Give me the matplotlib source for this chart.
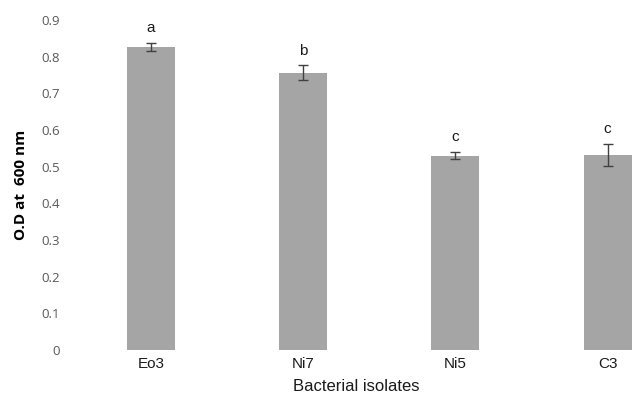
import matplotlib
matplotlib.use('Agg')
import matplotlib.pyplot as plt
import numpy as np

# values
isolates = ['Eo3', 'Ni7', 'Ni5', 'C3']
od600 = [0.826, 0.756, 0.530, 0.532]
errors = [0.011, 0.020, 0.010, 0.030]
letters = ['a', 'b', 'c', 'c']
yticks = [0, 0.1, 0.2, 0.3, 0.4, 0.5, 0.6, 0.7, 0.8, 0.9]

fig = plt.figure(figsize=(6.38, 4.0), dpi=100)
ax = fig.add_axes([0.1176, 0.125, 0.8824, 0.825])

x = np.arange(len(isolates))
ax.bar(x, od600, width=0.315, color='#a5a5a5')
ax.errorbar(x, od600, yerr=errors, fmt='none', ecolor='#404040',
            elinewidth=1, capsize=3.5, capthick=1)

# significance letters above the error bars
for xi, v, e, s in zip(x, od600, errors, letters):
    ax.annotate(s, (xi, v + e), xytext=(0, 5.5), textcoords='offset points',
                ha='center', va='bottom', fontsize=11,
                family='Liberation Sans', color='#1a1a1a')

ax.set_xlim(-0.5, 3.2)
ax.set_ylim(0, 0.9)
ax.set_yticks(yticks)
ax.set_yticklabels([f'{t:g}' for t in yticks], family='Open Sans',
                   fontsize=9.5, color='#595959')
ax.set_xticks(x)
ax.set_xticklabels(isolates, family='Liberation Sans', fontsize=11,
                   color='#1a1a1a')
ax.tick_params(axis='y', length=0, pad=11)
ax.tick_params(axis='x', length=0, pad=5)

for sp in ax.spines.values():
    sp.set_visible(False)

ax.set_xlabel('Bacterial isolates', family='Liberation Sans', fontsize=12,
              color='#1a1a1a', labelpad=6)
ax.set_ylabel('O.D at  600 nm', family='Open Sans', fontweight='bold',
              fontsize=11, color='black')
ax.yaxis.set_label_coords(-0.083, 0.5)

fig.savefig('out.png', dpi=100)
